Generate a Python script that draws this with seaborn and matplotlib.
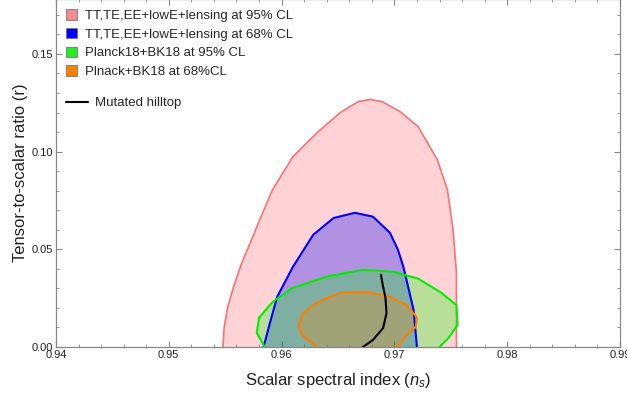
import numpy as np
import pandas as pd
import matplotlib
matplotlib.use('Agg')
import matplotlib.pyplot as plt
import seaborn as sns
from matplotlib.patches import Patch
from matplotlib.lines import Line2D

# contours (n_s, r)
red95_ns = [0.9548, 0.9549, 0.9552, 0.9557, 0.9564, 0.9572, 0.9582, 0.9592, 0.9610, 0.9632, 0.9652,
            0.9668, 0.9679, 0.9689, 0.9705, 0.9721, 0.9738, 0.9747, 0.9752, 0.9755, 0.9755]
red95_r = [0.0, 0.0097, 0.020, 0.030, 0.042, 0.053, 0.067, 0.0805, 0.0974, 0.110, 0.120,
           0.1256, 0.1267, 0.1256, 0.1205, 0.1128, 0.0959, 0.0805, 0.060, 0.038, 0.0]

blue68_ns = [0.9584, 0.9590, 0.9596, 0.9610, 0.9628, 0.9646, 0.9665, 0.9681, 0.9696, 0.9703,
             0.9708, 0.9717, 0.9720]
blue68_r = [0.0, 0.013, 0.0256, 0.041, 0.0574, 0.066, 0.0687, 0.0667, 0.0585, 0.050,
            0.041, 0.019, 0.0]

green95_ns = [0.9585, 0.9578, 0.9580, 0.9592, 0.9609, 0.9640, 0.9672, 0.9699, 0.9721, 0.9741,
              0.9755, 0.9756, 0.9748, 0.9740]
green95_r = [0.0, 0.0072, 0.015, 0.023, 0.030, 0.036, 0.0395, 0.0385, 0.035, 0.028,
             0.0215, 0.0113, 0.0046, 0.0]

orange68_ns = [0.9631, 0.9618, 0.9615, 0.9619, 0.9632, 0.9652, 0.9676, 0.9696, 0.9711, 0.9720,
               0.9719, 0.9711, 0.9703]
orange68_r = [0.0, 0.0062, 0.0113, 0.0174, 0.023, 0.0277, 0.0282, 0.0256, 0.0215, 0.015,
              0.0103, 0.0062, 0.0]

hilltop_ns = [0.9672, 0.9681, 0.9690, 0.9693, 0.9692, 0.9690, 0.9688]
hilltop_r = [0.0, 0.0036, 0.0097, 0.0174, 0.0256, 0.0308, 0.037]

labels = ['TT,TE,EE+lowE+lensing at 95% CL', 'TT,TE,EE+lowE+lensing at 68% CL',
          'Planck18+BK18 at 95% CL', 'Plnack+BK18 at 68%CL']
hilltop_label = 'Mutated hilltop'

sns.set_theme(style='ticks')
plt.rcParams['font.family'] = ['Liberation Sans', 'DejaVu Sans']
plt.rcParams['mathtext.fontset'] = 'custom'
plt.rcParams['mathtext.it'] = 'Liberation Sans:italic'
plt.rcParams['mathtext.rm'] = 'Liberation Sans'

fig = plt.figure(figsize=(6.27, 3.98), dpi=100)
ax = fig.add_axes([56/627, 1 - 347/398, (620-56)/627, 347/398 + 0.002])

regions = [
    (red95_ns, red95_r, '#ff2233', 0.2, '#ff7070', 1.2),
    (blue68_ns, blue68_r, '#0000ff', 0.31, '#0000ff', 1.5),
    (green95_ns, green95_r, '#00ff00', 0.28, '#00ee00', 1.5),
    (orange68_ns, orange68_r, '#ff8000', 0.26, '#ff8000', 1.5),
]
for xs, ys, fc, a, ec, lw in regions:
    ax.fill(xs, ys, color=fc, alpha=a, lw=0)
    df = pd.DataFrame({'ns': xs, 'r': ys})
    sns.lineplot(data=df, x='ns', y='r', sort=False, estimator=None, color=ec, lw=lw, ax=ax)

hill = pd.DataFrame({'ns': hilltop_ns, 'r': hilltop_r})
sns.lineplot(data=hill, x='ns', y='r', sort=False, estimator=None, color='black', lw=1.5, ax=ax)

ax.set_xlim(0.94, 0.99)
ax.set_ylim(0, 0.178)
ax.set_xticks(np.arange(0.94, 0.9901, 0.01))
ax.set_xticklabels(['0.94', '0.95', '0.96', '0.97', '0.98', '0.99'])
ax.set_xticks(np.arange(0.94, 0.9901, 0.002), minor=True)
ax.set_yticks([0.0, 0.05, 0.10, 0.15])
ax.set_yticklabels(['0.00', '0.05', '0.10', '0.15'])
ax.set_yticks(np.arange(0, 0.178, 0.01), minor=True)
ax.tick_params(which='both', direction='in', top=True, right=True, color='#888888',
               labelsize=8, pad=2, labelcolor='#222222')
ax.tick_params(which='major', length=4, width=0.8)
ax.tick_params(which='minor', length=2, width=0.6)
for s in ax.spines.values():
    s.set_color('#888888')
    s.set_linewidth(0.9)
ax.set_xlabel('Scalar spectral index ($n_s$)', fontsize=12, labelpad=8, color='#222222')
ax.set_ylabel('Tensor-to-scalar ratio (r)', fontsize=12, labelpad=3, color='#222222')

handles = [Patch(facecolor=c, edgecolor='#777777', lw=0.6)
           for c in ['#f88a8f', '#0000ff', '#22ee22', '#ff8000']]
leg1 = ax.legend(handles, labels, loc='upper left', bbox_to_anchor=(0.0, 1.0), frameon=False,
                 fontsize=9.5, handlelength=0.85, handleheight=0.85, handletextpad=0.6,
                 labelspacing=0.45, borderaxespad=0.35)
ax.add_artist(leg1)
ax.legend([Line2D([], [], color='black', lw=1.5)], [hilltop_label], loc='upper left',
          bbox_to_anchor=(0.0, 0.747), frameon=False, fontsize=9.5, handlelength=1.7,
          handletextpad=0.5, borderaxespad=0.35)

fig.savefig('out.png', dpi=100)
